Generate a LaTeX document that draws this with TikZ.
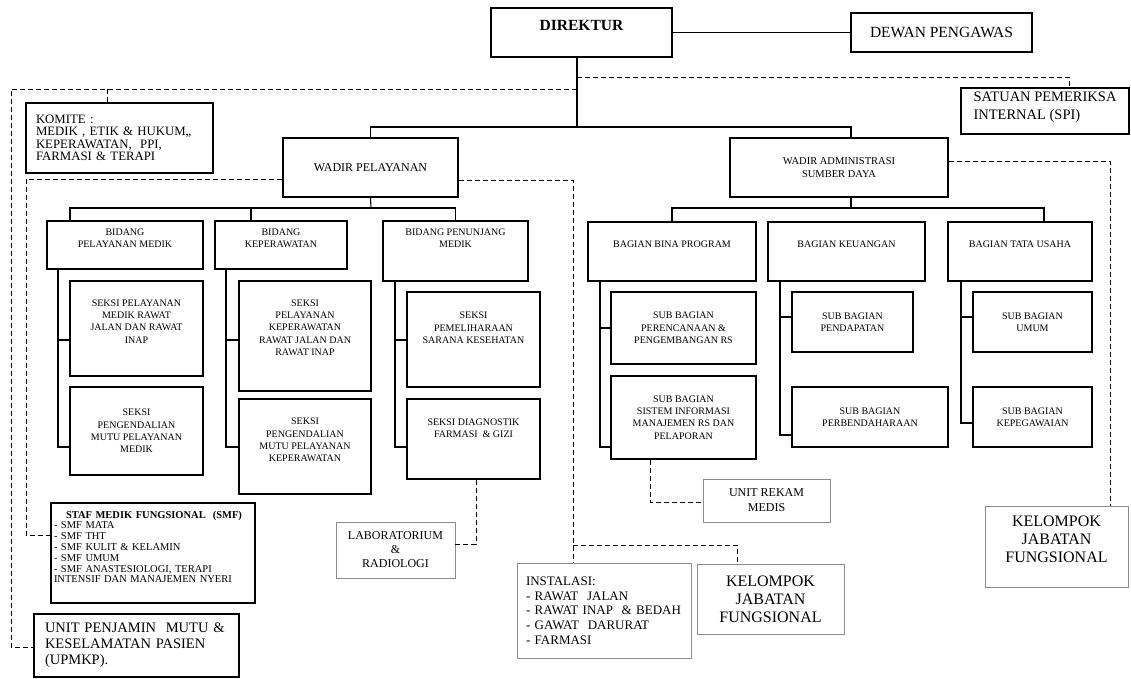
\documentclass[tikz,border=0pt]{standalone}
\usepackage{fontspec}
\setmainfont{Liberation Serif}
\newcommand\fsz[2]{\fontsize{#1}{#2}\selectfont}
\tikzset{
  box/.style={draw, line width=1.2pt, align=center, inner sep=2pt},
  gbox/.style={box, draw=black!45, line width=0.9pt},
  lbl/.style={align=center, inner sep=0pt},
  conn/.style={line width=1.1pt},
  dline/.style={line width=0.9pt, dash pattern=on 5pt off 3pt},
  small/.style={font=\fsz{10}{12.3}},
}

\begin{document}
\begin{tikzpicture}[x=1pt, y=-1pt]
		% 背景と範囲
		\fill[white] (0,0) rectangle (1131,679);
		\useasboundingbox (0,0) rectangle (1131,679);
		% 上段の箱
		\node[box, minimum width=181pt, minimum height=49pt,
			label={[lbl, font=\bfseries\fsz{15.5}{18}, yshift=7.5pt]center:DIREKTUR}] (dir) at (581.5,32.5) {};
		\node[box, minimum width=181pt, minimum height=39pt, font=\fsz{15.5}{18}] (dew) at (941.5,32.5) {DEWAN PENGAWAS};
		\node[box, minimum width=168pt, minimum height=46pt,
			label={[lbl, align=left, font=\fsz{14.5}{18}, yshift=3.5pt]center:{SATUAN PEMERIKSA\\INTERNAL (SPI)}}] (spi) at (1045,111) {};
		\node[box, align=left, text width=167pt, inner xsep=10pt, minimum height=70pt, font=\fsz{12.8}{12.5}] (kom) at (119.5,138)
			{KOMITE :\\MEDIK , ETIK \& HUKUM,,\\KEPERAWATAN, \ PPI,\\FARMASI \& TERAPI};
		\node[box, minimum width=175pt, minimum height=59pt, font=\fsz{12}{14}] (wp) at (370.5,167.5) {WADIR PELAYANAN};
		\node[box, minimum width=218pt, minimum height=59pt, font=\fsz{10.5}{13}] (wa) at (839,167.5) {WADIR ADMINISTRASI\\SUMBER DAYA};
		% bidang
		\node[box, minimum width=156pt, minimum height=48pt,
			label={[lbl, small, yshift=7pt]center:{BIDANG\\PELAYANAN MEDIK}}] (bpm) at (125,245) {};
		\node[box, minimum width=132pt, minimum height=48pt,
			label={[lbl, small, yshift=7pt]center:{BIDANG\\KEPERAWATAN}}] (bkp) at (281,245) {};
		\node[box, minimum width=145pt, minimum height=60pt,
			label={[lbl, small, yshift=13pt]center:{BIDANG PENUNJANG\\MEDIK}}] (bpn) at (455.5,251) {};
		% seksi
		\node[box, minimum width=133pt, minimum height=95pt,
			label={[lbl, small, yshift=7pt]center:{SEKSI PELAYANAN\\MEDIK RAWAT\\JALAN DAN RAWAT\\INAP}}] (s11) at (136.5,328.5) {};
		\node[box, small, minimum width=133pt, minimum height=88pt] (s12) at (136.5,431) {SEKSI\\PENGENDALIAN\\MUTU PELAYANAN\\MEDIK};
		\node[box, minimum width=132pt, minimum height=110pt,
			label={[lbl, small, yshift=8.5pt]center:{SEKSI\\PELAYANAN\\KEPERAWATAN\\RAWAT JALAN DAN\\RAWAT INAP}}] (s21) at (305,336) {};
		\node[box, minimum width=132pt, minimum height=95pt,
			label={[lbl, small, yshift=6.5pt]center:{SEKSI\\PENGENDALIAN\\MUTU PELAYANAN\\KEPERAWATAN}}] (s22) at (305,446.5) {};
		\node[box, minimum width=133pt, minimum height=95pt,
			label={[lbl, small, yshift=11.5pt]center:{SEKSI\\PEMELIHARAAN\\SARANA KESEHATAN}}] (s31) at (473.5,339.5) {};
		\node[box, minimum width=133pt, minimum height=80pt,
			label={[lbl, small, yshift=10.5pt]center:{SEKSI DIAGNOSTIK\\FARMASI \ \& GIZI}}] (s32) at (473.5,439) {};
		% bagian
		\node[box, minimum width=168pt, minimum height=59pt,
			label={[lbl, small, yshift=7.5pt]center:BAGIAN BINA PROGRAM}] (bbp) at (672,251.5) {};
		\node[box, minimum width=157pt, minimum height=59pt,
			label={[lbl, small, yshift=7.5pt]center:BAGIAN KEUANGAN}] (bku) at (846.5,251.5) {};
		\node[box, minimum width=144pt, minimum height=59pt,
			label={[lbl, small, yshift=7.5pt]center:BAGIAN TATA USAHA}] (btu) at (1020,251.5) {};
		% sub bagian
		\node[box, small, minimum width=145pt, minimum height=72pt] (sb11) at (683.5,328) {SUB BAGIAN\\PERENCANAAN \&\\PENGEMBANGAN RS};
		\node[box, small, minimum width=145pt, minimum height=83pt] (sb12) at (683.5,417.5) {SUB BAGIAN\\SISTEM INFORMASI\\MANAJEMEN RS DAN\\PELAPORAN};
		\node[box, small, minimum width=121pt, minimum height=60pt] (sb21) at (852.5,322) {SUB BAGIAN\\PENDAPATAN};
		\node[box, small, minimum width=156pt, minimum height=60pt] (sb22) at (870,417) {SUB BAGIAN\\PERBENDAHARAAN};
		\node[box, small, minimum width=119pt, minimum height=60pt] (sb31) at (1032.5,322) {SUB BAGIAN\\UMUM};
		\node[box, small, minimum width=119pt, minimum height=60pt] (sb32) at (1032.5,417) {SUB BAGIAN\\KEPEGAWAIAN};
		% 下段の箱
		\node[box, minimum width=204pt, minimum height=100pt,
			label={[lbl, align=left, text width=198pt, font=\fsz{10.5}{10.8}, yshift=6pt]center:{\hspace*{12pt}\textbf{STAF MEDIK FUNGSIONAL \ (SMF)}\\- SMF MATA\\- SMF THT\\- SMF KULIT \& KELAMIN\\- SMF UMUM\\- SMF ANASTESIOLOGI, TERAPI\\INTENSIF DAN MANAJEMEN NYERI}}] (smf) at (153,553) {};
		\node[box, align=left, text width=183pt, inner xsep=11pt, minimum height=63pt, font=\fsz{14.5}{15.8}] (upm) at (136.5,645.5)
			{UNIT PENJAMIN \ MUTU \&\\KESELAMATAN PASIEN\\(UPMKP).};
		\node[gbox, minimum width=119pt, minimum height=56pt, font=\fsz{12}{14}] (lab) at (395.5,550) {LABORATORIUM\\\&\\RADIOLOGI};
		\node[gbox, minimum width=127pt, minimum height=43pt, font=\fsz{12}{15}] (rek) at (766.5,500.5) {UNIT REKAM\\MEDIS};
		\node[gbox, align=left, text width=156pt, inner xsep=9pt, minimum height=95pt, font=\fsz{13}{14.7}] (ins) at (604,610.5)
			{INSTALASI:\\- RAWAT \ JALAN\\- RAWAT INAP \ \& BEDAH\\- GAWAT \ DARURAT\\- FARMASI};
		\node[gbox, minimum width=147pt, minimum height=70pt, font=\fsz{16}{18}] (kjm) at (770.5,599) {KELOMPOK\\JABATAN\\FUNGSIONAL};
		\node[gbox, minimum width=143pt, minimum height=81pt,
			label={[lbl, font=\fsz{16}{18}, yshift=7pt]center:{KELOMPOK\\JABATAN\\FUNGSIONAL}}] (kjr) at (1056.5,546.5) {};
		% 実線の描画
		\coordinate (dtrunk) at (577,127);
		\draw[conn] (dir.east) -- (dew.west);
		\draw[conn] (dir.south -| dtrunk) -- (dtrunk);
		\draw[conn] (wp.north) |- (dtrunk) -| (wa.north -| 851,0);
		\draw[conn] (wp.south) -- (371,208);
		\draw[conn] (bpm.north -| 70,0) |- (bpn.north |- 0,208) -- (bpn.north);
		\draw[conn] (bkp.north -| 251,0) -- (251,208);
		\draw[conn] (wa.south -| 851,0) -- (851,208);
		\draw[conn] (bbp.north) |- (1044,208) -- (btu.north -| 1044,0);
		\draw[conn] (bpm.south -| 58,0) |- (s12.west |- 0,447);
		\draw[conn] (58,340) -- (s11.west |- 0,340);
		\draw[conn] (bkp.south -| 226,0) |- (s22.west |- 0,447);
		\draw[conn] (226,340) -- (s21.west |- 0,340);
		\draw[conn] (bpn.south -| 395,0) |- (s32.west |- 0,447);
		\draw[conn] (395,340) -- (s31.west |- 0,340);
		\draw[conn] (bbp.south -| 600,0) |- (sb12.west |- 0,447);
		\draw[conn] (600,328) -- (sb11.west |- 0,328);
		\draw[conn] (bku.south -| 780,0) |- (sb22.west |- 0,435);
		\draw[conn] (780,317) -- (sb21.west |- 0,317);
		\draw[conn] (btu.south -| 961,0) |- (sb32.west |- 0,423);
		\draw[conn] (961,317) -- (sb31.west |- 0,317);
		% 破線の描画
		\draw[dline] (dtrunk |- 0,89) -| (11,647) -- (upm.west |- 0,647);
		\draw[dline] (107,89) -- (kom.north -| 107,0);
		\draw[dline] (dtrunk |- 0,77) -| (spi.north -| 1069,0);
		\draw[dline] (wp.west |- 0,179) -| (26,535) -- (smf.west |- 0,535);
		\draw[dline] (wp.east |- 0,180) -| (ins.north -| 573,0);
		\draw[dline] (573,545) -| (kjm.north -| 737,0);
		\draw[dline] (s32.south -| 476,0) |- (lab.east |- 0,544);
		\draw[dline] (sb12.south -| 650,0) |- (rek.west |- 0,502);
		\draw[dline] (wa.east |- 0,161) -| (kjr.north -| 1110,0);
	\end{tikzpicture}
\end{document}
